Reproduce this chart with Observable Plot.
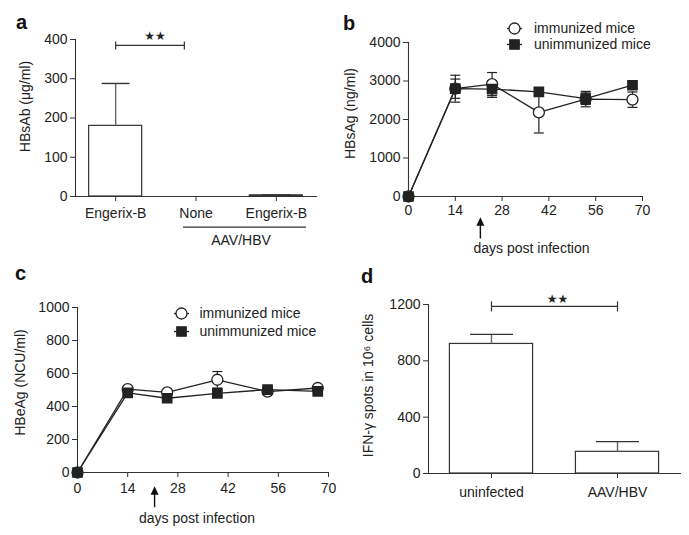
<!DOCTYPE html>
<html><head><meta charset="utf-8">
<script src="https://cdn.jsdelivr.net/npm/d3@7"></script>
<script src="https://cdn.jsdelivr.net/npm/@observablehq/plot@0.6"></script>
<style>
body{margin:0;background:#fff;}
#fig{position:relative;width:689px;height:535px;overflow:hidden;background:#fff;}
.panel{position:absolute;}
.letter{position:absolute;font-weight:bold;font-size:20px;line-height:20px;color:#111;font-family:"Liberation Sans",Arial,sans-serif;}
</style></head><body><div id="fig"></div>
<script>
// ---------- data ----------
const aGroups = ["Engerix-B", "None", "Engerix-B"];
const aMean = [180, 0, 3];
const aErr = [108, 0, 1];
const aYTicks = [0, 100, 200, 300, 400];

const days = [0, 14, 25, 39, 53, 67];
const dayTicks = [0, 14, 28, 42, 56, 70];
const seriesNames = ["immunized mice", "unimmunized mice"];

const bImm = [0, 2800, 2920, 2185, 2530, 2515];
const bImmErr = [0, 250, 300, 535, 200, 200];
const bUnimm = [0, 2800, 2790, 2720, 2540, 2890];
const bUnimmErr = [0, 350, 215, 100, 150, 80];
const bYTicks = [0, 1000, 2000, 3000, 4000];

const cImm = [0, 505, 486, 562, 490, 512];
const cImmErr = [0, 12, 10, 50, 10, 10];
const cUnimm = [0, 482, 450, 480, 502, 492];
const cUnimmErr = [0, 12, 10, 15, 10, 10];
const cYTicks = [0, 200, 400, 600, 800, 1000];

const dGroups = ["uninfected", "AAV/HBV"];
const dMean = [920, 154];
const dErr = [68, 72];
const dYTicks = [0, 400, 800, 1200];

const arrowDay = 21.5;

// ---------- helpers ----------
const INK = "#222";
const hline = {draw(ctx, size){const r=Math.sqrt(size/Math.PI);ctx.moveTo(-r,0);ctx.lineTo(r,0);}};
const vline = {draw(ctx, size){const r=Math.sqrt(size/Math.PI);ctx.moveTo(0,-r);ctx.lineTo(0,r);}};
const arrowUp = {draw(ctx, size){const r=Math.sqrt(size/Math.PI);const hw=4,hh=8.5,sw=0.7;
  ctx.moveTo(0,-r);ctx.lineTo(hw,-r+hh);ctx.lineTo(sw,-r+hh);ctx.lineTo(sw,r);ctx.lineTo(-sw,r);
  ctx.lineTo(-sw,-r+hh);ctx.lineTo(-hw,-r+hh);ctx.closePath();}};
const baseStyle = {fontFamily:'"Liberation Sans", Arial, sans-serif', fontSize:"14px", color:INK, background:"transparent"};
const intFmt = d => String(d);

const fig = document.getElementById("fig");
function place(el, left, top){
  const w = document.createElement("div"); w.className="panel"; w.style.left=left+"px"; w.style.top=top+"px";
  w.appendChild(el); fig.appendChild(w);
}
function letter(t, left, top){
  const d=document.createElement("div"); d.className="letter"; d.textContent=t; d.style.left=left+"px"; d.style.top=top+"px"; fig.appendChild(d);
}
function yLabel(text, dx, dy){
  return Plot.text([text], {frameAnchor:"left", textAnchor:"middle", lineAnchor:"middle", rotate:-90, dx, dy, text:d=>d, fontSize:14, fill:INK});
}
function axes(xo, yo){
  return [
    Plot.frame({anchor:"left", stroke:"#333", strokeWidth:1.1}),
    Plot.frame({anchor:"bottom", stroke:"#333", strokeWidth:1.1}),
    Plot.axisX({tickSize:5, label:null, stroke:"#333", fontSize:14, ...xo}),
    Plot.axisY({tickSize:5, tickPadding:3, label:null, stroke:"#333", fontSize:14, tickFormat:intFmt, ...yo})
  ];
}
function barPanel(groups, means, errs, opt){
  const rows = groups.map((g,i)=>({i:i+1, g, v:means[i], e:errs[i]}));
  const br = opt.bracket;
  return Plot.plot({
    width: opt.width, height: opt.height,
    marginTop: opt.m[0], marginRight: opt.m[1], marginBottom: opt.m[2], marginLeft: opt.m[3],
    style: baseStyle,
    x: {domain:[0.5, groups.length+0.5]},
    y: {domain: opt.ydomain},
    marks: [
      Plot.rectY(rows, {x1:d=>d.i-0.33, x2:d=>d.i+0.33, y:"v", fill:"white", stroke:"#333", strokeWidth:1.2}),
      Plot.ruleX(rows.filter(d=>d.e>0), {x:"i", y1:"v", y2:d=>d.v+d.e, stroke:"#666", strokeWidth:1.4}),
      Plot.dot(rows.filter(d=>d.e>0), {x:"i", y:d=>d.v+d.e, symbol:hline, r:opt.cap, stroke:"#333", fill:"none", strokeWidth:1.4}),
      ...axes({ticks: rows.map(d=>d.i), tickFormat: i=>groups[i-1], tickPadding: opt.xpad}, {ticks: opt.yticks}),
      Plot.link([br], {x1:"from", x2:"to", y1:"y", y2:"y", stroke:"#333", strokeWidth:1.2}),
      Plot.dot([br.from, br.to], {x:d=>d, y:()=>br.y, symbol:vline, r:opt.brTick, stroke:"#333", fill:"none", strokeWidth:1.2}),
      Plot.text(["★★"], {x:()=>(br.from+br.to)/2, y:()=>br.y, dx:opt.starDx, dy:opt.starDy, text:d=>d, fontFamily:"DejaVu Sans", fontSize:12, fill:INK}),
      yLabel(opt.ylabel, opt.ylDx, opt.ylDy),
      ...(opt.extra || [])
    ]
  });
}
function linePanel(imm, immErr, un, unErr, opt){
  const rows = (vals, errs, s) => days.map((d,i)=>({day:d, v:vals[i], e:errs[i], s}));
  const A = rows(imm, immErr, seriesNames[0]);
  const B = rows(un, unErr, seriesNames[1]);
  const errRows = [...A, ...B].filter(d=>d.e>0);
  const lg = opt.legend;
  const legendMarks = seriesNames.flatMap((name,k)=>[
    Plot.dot([name], {frameAnchor:"top-left", dx:lg.dx, dy:lg.dy+k*lg.gap, symbol:hline, r:7.5, stroke:INK, fill:"none", strokeWidth:1.3}),
    Plot.dot([name], {frameAnchor:"top-left", dx:lg.dx, dy:lg.dy+k*lg.gap, symbol:k?"square":"circle", r:k?5.3:5.5, fill:k?INK:"white", stroke:INK, strokeWidth:1.3}),
    Plot.text([name], {frameAnchor:"top-left", dx:lg.dx+lg.tdx, dy:lg.dy+k*lg.gap, text:d=>d, textAnchor:"start", lineAnchor:"middle", fontSize:14, fill:INK})
  ]);
  return Plot.plot({
    width: opt.width, height: opt.height,
    marginTop: opt.m[0], marginRight: opt.m[1], marginBottom: opt.m[2], marginLeft: opt.m[3],
    style: baseStyle,
    x: {domain:[0,70]},
    y: {domain: opt.ydomain},
    marks: [
      ...axes({ticks: dayTicks, tickPadding: opt.xpad}, {ticks: opt.yticks}),
      Plot.line(A, {x:"day", y:"v", stroke:INK, strokeWidth:1.3}),
      Plot.line(B, {x:"day", y:"v", stroke:INK, strokeWidth:1.3}),
      Plot.ruleX(errRows, {x:"day", y1:d=>d.v-d.e, y2:d=>d.v+d.e, stroke:INK, strokeWidth:1.2}),
      Plot.dot(errRows, {x:"day", y:d=>d.v+d.e, symbol:hline, r:5, stroke:INK, fill:"none", strokeWidth:1.2}),
      Plot.dot(errRows, {x:"day", y:d=>d.v-d.e, symbol:hline, r:5, stroke:INK, fill:"none", strokeWidth:1.2}),
      Plot.dot(A, {x:"day", y:"v", symbol:"circle", r:5.5, fill:"white", stroke:INK, strokeWidth:1.3}),
      Plot.dot(B, {x:"day", y:"v", symbol:"square", r:5.3, fill:INK, stroke:INK, strokeWidth:1.3}),
      ...legendMarks,
      Plot.dot([arrowDay], {x:d=>d, frameAnchor:"bottom", dy:opt.arrow.dy, symbol:arrowUp, r:opt.arrow.r, fill:"#111", stroke:"none"}),
      Plot.text(["days post infection"], {frameAnchor:"bottom", textAnchor:"middle", lineAnchor:"middle", dx:opt.xl.dx, dy:opt.xl.dy, text:d=>d, fontSize:14, fill:INK}),
      yLabel(opt.ylabel, opt.ylDx, opt.ylDy)
    ]
  });
}

// ---------- panel a ----------
const pa = barPanel(aGroups, aMean, aErr, {
  width:340, height:260, m:[39,24,64,75], ydomain:[0,400], yticks:aYTicks, xpad:7, cap:14,
  bracket:{from:1, to:1.855, y:385}, brTick:4, starDx:5, starDy:-9,
  ylabel:"HBsAb (μg/ml)", ylDx:-50, ylDy:-11.5,
  extra:[
    Plot.ruleY([0], {x1:1.844, x2:3.376, dy:30.7, stroke:"#333", strokeWidth:1.2}),
    Plot.text(["AAV/HBV"], {x:()=>2.56, y:()=>0, dy:44, text:d=>d, fontSize:14, fill:INK})
  ]
});
place(pa, 0, 0);

// ---------- panel b ----------
const pb = linePanel(bImm, bImmErr, bUnimm, bUnimmErr, {
  width:349, height:260, m:[42,47,64,68], ydomain:[0,4000], yticks:bYTicks, xpad:4,
  legend:{dx:106, dy:-14, gap:16, tdx:19.5},
  arrow:{dy:31.4, r:10.7}, xl:{dx:6, dy:52},
  ylabel:"HBsAg (ng/ml)", ylDx:-58, ylDy:-6
});
place(pb, 340, 0);

// ---------- panel c ----------
const pc = linePanel(cImm, cImmErr, cUnimm, cUnimmErr, {
  width:340, height:275, m:[47,12,63,77], ydomain:[0,1000], yticks:cYTicks, xpad:5.5,
  legend:{dx:104, dy:6, gap:18, tdx:18},
  arrow:{dy:24.2, r:10.5}, xl:{dx:-6, dy:46},
  ylabel:"HBeAg (NCU/ml)", ylDx:-57, ylDy:-7.5
});
place(pc, 0, 260);

// ---------- panel d ----------
const pd = barPanel(dGroups, dMean, dErr, {
  width:349, height:275, m:[44,9,62,88], ydomain:[0,1200], yticks:dYTicks, xpad:9, cap:21.5,
  bracket:{from:1, to:2, y:1186}, brTick:5, starDx:3, starDy:-7.5,
  ylabel:"IFN-γ spots in 10⁶ cells", ylDx:-60, ylDy:-3.5
});
place(pd, 340, 260);

letter("a", 16, 12);
letter("b", 343, 13);
letter("c", 15, 263);
letter("d", 361, 266);
</script></body></html>
